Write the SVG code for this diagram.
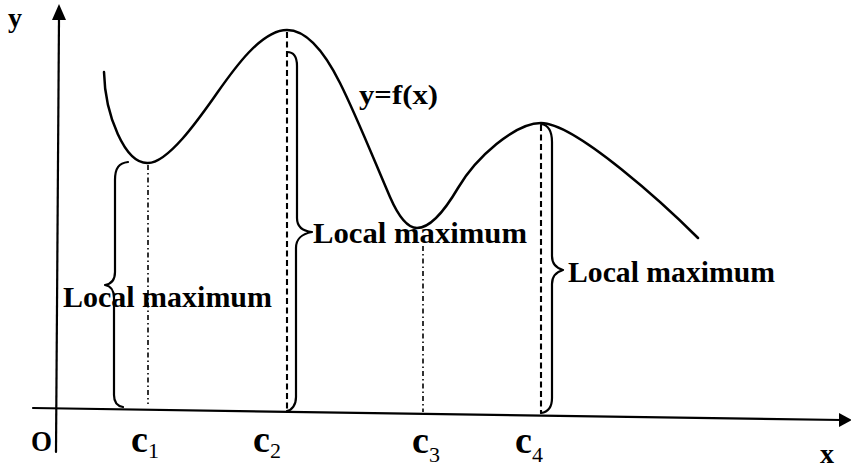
<svg xmlns="http://www.w3.org/2000/svg" width="851" height="468" viewBox="0 0 851 468">
<style>
.ln{fill:none;stroke:#000;stroke-linecap:round;stroke-linejoin:round}
.ax{stroke-width:2.2}
.cv{stroke-width:2.5}
.br{stroke-width:2.2}
.dd{stroke-width:1.6;stroke-dasharray:5 3 1.5 3;stroke-linecap:butt}
.ds{stroke-width:2.1;stroke-dasharray:6 3.5;stroke-linecap:butt}
.t{font-family:"Liberation Serif","Times New Roman",serif;font-weight:bold;fill:#000}
</style>
<rect width="851" height="468" fill="#fff"/>
<g id="axes">
<line class="ln ax" x1="56" y1="452" x2="59" y2="18"/>
<polygon points="59,4 52,20 66,20" fill="#000"/>
<line class="ln ax" x1="33" y1="408" x2="842" y2="420"/>
<polygon points="852,420 839,413 839,427" fill="#000"/>
</g>
<g id="curve">
<path class="ln cv" d="M104,72 C105,115 125,164 148,163 C168,163 199,118.7 215,96 C231,73.3 260,30 287,30 Q313.5,30 340,83 C357,117 375,162.5 390,197 Q403.5,228 417,228 C432,228 448,205 458,188 C476,157.4 515,123 541,123 C576,123 668,208 698,238"/>
</g>
<g id="guides">
<line class="ln dd" x1="148" y1="165" x2="148" y2="404"/>
<line class="ln ds" x1="287" y1="32" x2="287" y2="410"/>
<line class="ln dd" x1="423" y1="246" x2="423" y2="412"/>
<line class="ln ds" x1="541" y1="125" x2="541" y2="413"/>
</g>
<g id="braces">
<path class="ln br" d="M128,162 C119,163 115,168 115,180 L115,272 C115,280 111,284 105,285 C111,286 114,290 114,298 L114,395 C114,402 117,406 123,407"/>
<path class="ln br" d="M287,52 C294,52 297,57 297,66 L297,218 C297,226 302,231 312,232 C302,234 296,238 296,248 L296,397 C296,405 292,410 287,411"/>
<path class="ln br" d="M541,124 C548,125 552,131 552,142 L552,256 C552,264 556,268 563,270 C556,272 552,276 552,284 L552,398 C552,407 548,412 541,413"/>
</g>
<g id="labels">
<text class="t" x="8" y="27" font-size="28">y</text>
<text class="t" x="31" y="451" font-size="30" textLength="21" lengthAdjust="spacingAndGlyphs">O</text>
<text class="t" x="820" y="463" font-size="28">x</text>
<text class="t" x="359" y="104" font-size="28" textLength="79" lengthAdjust="spacingAndGlyphs">y=f(x)</text>
<text class="t" x="63" y="307" font-size="30" textLength="209" lengthAdjust="spacingAndGlyphs">Local maximum</text>
<text class="t" x="313" y="243" font-size="30" textLength="214" lengthAdjust="spacingAndGlyphs">Local maximum</text>
<text class="t" x="568" y="282" font-size="30" textLength="207" lengthAdjust="spacingAndGlyphs">Local maximum</text>
<text class="t" x="131" y="452" font-size="38">c<tspan font-weight="normal" font-size="22" dy="6">1</tspan></text>
<text class="t" x="253" y="452" font-size="38">c<tspan font-weight="normal" font-size="22" dy="6">2</tspan></text>
<text class="t" x="412" y="453" font-size="38">c<tspan font-weight="normal" font-size="22" dy="9">3</tspan></text>
<text class="t" x="515" y="453" font-size="38">c<tspan font-weight="normal" font-size="22" dy="9">4</tspan></text>
</g>
</svg>
